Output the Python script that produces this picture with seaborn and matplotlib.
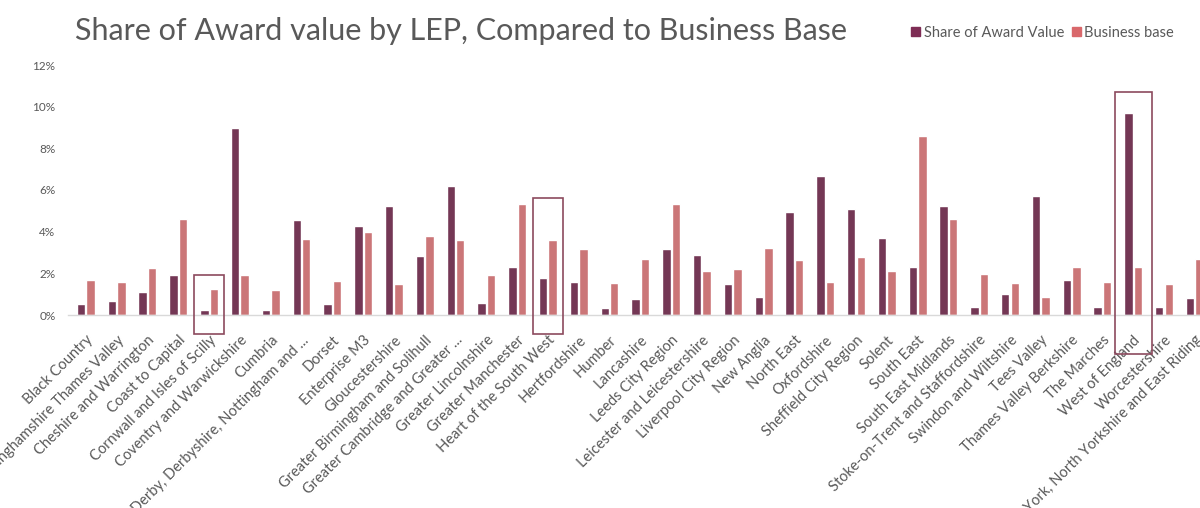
import matplotlib.pyplot as plt
import matplotlib.patches as patches
import numpy as np
import pandas as pd
import seaborn as sns

# data (percent)
leps = ["Black Country", "Buckinghamshire Thames Valley", "Cheshire and Warrington",
        "Coast to Capital", "Cornwall and Isles of Scilly", "Coventry and Warwickshire",
        "Cumbria", "Derby, Derbyshire, Nottingham and ...", "Dorset", "Enterprise M3",
        "Gloucestershire", "Greater Birmingham and Solihull", "Greater Cambridge and Greater ...",
        "Greater Lincolnshire", "Greater Manchester", "Heart of the South West",
        "Hertfordshire", "Humber", "Lancashire", "Leeds City Region",
        "Leicester and Leicestershire", "Liverpool City Region", "New Anglia", "North East",
        "Oxfordshire", "Sheffield City Region", "Solent", "South East", "South East Midlands",
        "Stoke-on-Trent and Staffordshire", "Swindon and Wiltshire", "Tees Valley",
        "Thames Valley Berkshire", "The Marches", "West of England", "Worcestershire",
        "York, North Yorkshire and East Riding"]
award_share = [0.53, 0.65, 1.09, 1.9, 0.24, 9.0, 0.24, 4.55, 0.53, 4.28,
               5.24, 2.82, 6.17, 0.58, 2.3, 1.76, 1.58, 0.32, 0.78, 3.15,
               2.9, 1.47, 0.86, 4.93, 6.65, 5.11, 3.68, 2.32, 5.22, 0.4,
               0.99, 5.72, 1.67, 0.38, 9.7, 0.37, 0.8]
business_base = [1.7, 1.58, 2.24, 4.6, 1.27, 1.9, 1.2, 3.65, 1.65, 4.0,
                 1.5, 3.77, 3.6, 1.94, 5.33, 3.6, 3.15, 1.55, 2.69, 5.33,
                 2.13, 2.19, 3.2, 2.64, 1.58, 2.8, 2.13, 8.59, 4.6, 1.95,
                 1.55, 0.88, 2.3, 1.58, 2.29, 1.5, 2.69]
series_names = ["Share of Award Value", "Business base"]
yticks = [0, 2, 4, 6, 8, 10, 12]

# highlighted LEPs: (name, box top, box bottom) in percent
highlights = [("Cornwall and Isles of Scilly", 1.9, -0.9),
              ("Heart of the South West", 5.6, -0.9),
              ("West of England", 10.7, -1.85)]

df = pd.DataFrame({
    "LEP": leps * 2,
    "Series": [series_names[0]] * len(leps) + [series_names[1]] * len(leps),
    "Value": award_share + business_base,
})

sns.set_style("white")
plt.rcParams["font.family"] = ["Lato", "DejaVu Sans"]
grey = "#595959"

fig = plt.figure(figsize=(12, 5.08), dpi=100)
ax = fig.add_axes([68 / 1200, 1 - 315 / 508, 1 - 68 / 1200, 250 / 508])

palette = {series_names[0]: "#7E2D55", series_names[1]: "#D9686B"}
sns.barplot(data=df, x="LEP", y="Value", hue="Series", palette=palette,
            width=0.62, gap=0.12, ax=ax, legend=False)

ax.set_ylim(0, 12)
ax.set_xlim(-0.58, 36.17)
ax.set_yticks(yticks)
ax.set_yticklabels([f"{t}%" for t in yticks], color=grey, fontsize=8.5)
ax.set_xlabel("")
ax.set_ylabel("")
ax.tick_params(axis="both", length=0)
ax.tick_params(axis="y", pad=9)
ax.tick_params(axis="x", pad=13)
for lbl in ax.get_xticklabels():
    lbl.set_rotation(45)
    lbl.set_ha("right")
    lbl.set_rotation_mode("anchor")
    lbl.set_color(grey)
    lbl.set_fontsize(10.5)
for s in ["top", "right", "left"]:
    ax.spines[s].set_visible(False)
ax.spines["bottom"].set_color("#D9D9D9")
ax.spines["bottom"].set_linewidth(1)

for name, top, bottom in highlights:
    i = leps.index(name)
    w = 1.2 if name == "West of England" else 0.95
    rect = patches.Rectangle((i - w / 2, bottom), w, top - bottom, fill=False,
                             edgecolor="#8C4A5E", linewidth=1.2, clip_on=False, zorder=5)
    ax.add_patch(rect)

fig.text(75 / 1200, 1 - 31 / 508, "Share of Award value by LEP, Compared to Business Base",
         fontsize=22, color=grey, va="center", ha="left")

handles = [patches.Patch(color=palette[n]) for n in series_names]
fig.legend(handles, series_names, loc="center left", bbox_to_anchor=(898 / 1200, 1 - 33 / 508),
           ncol=2, frameon=False, fontsize=10.5, labelcolor=grey, handlelength=0.6,
           handleheight=0.6, handletextpad=0.25, columnspacing=0.55)

fig.savefig("out.png", dpi=100)
